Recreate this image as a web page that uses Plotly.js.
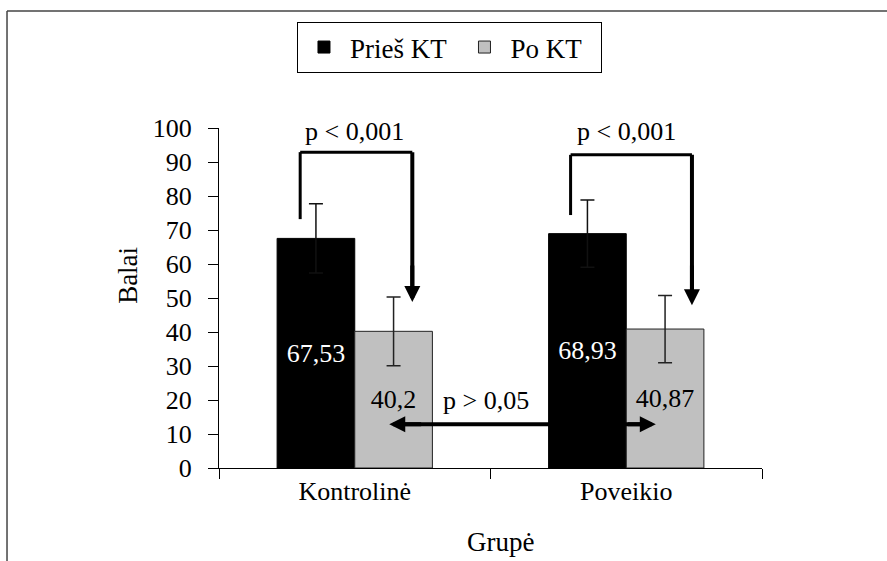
<!DOCTYPE html>
<html>
<head>
<meta charset="utf-8">
<script src="https://cdn.plot.ly/plotly-3.0.1.min.js"></script>
<style>
  html, body { margin: 0; padding: 0; background: #ffffff; }
  #chart { width: 887px; height: 561px; }
</style>
</head>
<body>
<div id="chart"></div>
<script>
// ---- data ----
const categories = ["Kontrolinė", "Poveikio"];
const seriesNames = ["Prieš KT", "Po KT"];
const beforeValues = [67.53, 68.93];
const afterValues = [40.2, 40.87];
const beforeErrors = [10.2, 9.9];
const afterErrors = [10.1, 9.9];
const yTickValues = [0, 10, 20, 30, 40, 50, 60, 70, 80, 90, 100];
const pLabels = ["p < 0,001", "p < 0,001", "p > 0,05"];
const xTitle = "Grupė";
const yTitle = "Balai";

const FONT = "Liberation Serif";
const fmt = v => String(v).replace('.', ',');

const traceBefore = {
  type: 'bar',
  name: seriesNames[0] + '\u00a0',
  x: categories,
  y: beforeValues,
  marker: { color: '#000000', line: { color: '#000000', width: 1 } },
  error_y: { type: 'data', array: beforeErrors, visible: true, color: '#111111', thickness: 1.5, width: 7 },
  text: beforeValues.map(fmt),
  textposition: 'inside',
  insidetextanchor: 'middle',
  textangle: 0,
  constraintext: 'none',
  textfont: { family: FONT, size: 26, color: '#ffffff' },
  hoverinfo: 'none'
};
const traceAfter = {
  type: 'bar',
  name: seriesNames[1] + '\u00a0\u00a0',
  x: categories,
  y: afterValues,
  marker: { color: '#c0c0c0', line: { color: '#222222', width: 1 } },
  error_y: { type: 'data', array: afterErrors, visible: true, color: '#222222', thickness: 1.5, width: 7 },
  text: afterValues.map(fmt),
  textposition: 'inside',
  insidetextanchor: 'middle',
  textangle: 0,
  constraintext: 'none',
  textfont: { family: FONT, size: 26, color: '#000000' },
  hoverinfo: 'none'
};

function bracket(i, xl, xr, yStart, yTop, yTip) {
  return [
    { type: 'line', xref: 'x', yref: 'y', x0: i + xl, x1: i + xl, y0: yStart, y1: yTop, line: { color: '#000', width: 3 } },
    { type: 'line', xref: 'x', yref: 'y', x0: i + xl, x1: i + xr, y0: yTop, y1: yTop, line: { color: '#000', width: 3 } },
    { type: 'line', xref: 'x', yref: 'y', x0: i + xr, x1: i + xr, y0: yTop, y1: yTip + 3, line: { color: '#000', width: 4 } }
  ];
}

const shapes = [].concat(
  bracket(0, -0.201, 0.212, 73.2, 92.9, 48.8),
  bracket(1, -0.205, 0.242, 74.4, 92.1, 47.9),
  [
    { type: 'line', xref: 'x', yref: 'y', x0: 0.16, x1: 1.08, y0: 12.9, y1: 12.9, line: { color: '#000', width: 4 } },
    { type: 'line', xref: 'x', yref: 'y', x0: 1.5, x1: 1.603, y0: 0, y1: 0, line: { color: '#000', width: 1 } },
    { type: 'line', xref: 'paper', yref: 'paper', x0: -0.3904, x1: 1.25, y0: 1.344, y1: 1.344, line: { color: '#444', width: 1.5 } },
    { type: 'line', xref: 'paper', yref: 'paper', x0: -0.3904, x1: -0.3904, y0: 1.344, y1: -0.3, line: { color: '#444', width: 1.5 } }
  ]
);

function arrowAnn(x, y, ax, ay) {
  return { x: x, y: y, ax: ax, ay: ay, xref: 'x', yref: 'y', axref: 'x', ayref: 'y',
    text: '', showarrow: true, arrowhead: 2, arrowsize: 0.8, arrowwidth: 4, arrowcolor: '#000', standoff: 0 };
}

const annotations = [
  { x: 0, y: 99, xref: 'x', yref: 'y', text: pLabels[0], showarrow: false, font: { family: FONT, size: 26, color: '#000' } },
  { x: 1, y: 99, xref: 'x', yref: 'y', text: pLabels[1], showarrow: false, font: { family: FONT, size: 26, color: '#000' } },
  { x: 0.484, y: 20, xref: 'x', yref: 'y', text: pLabels[2], showarrow: false, font: { family: FONT, size: 26, color: '#000' } },
  arrowAnn(0.212, 48.8, 0.212, 60),
  arrowAnn(1.242, 47.9, 1.242, 60),
  arrowAnn(0.127, 12.9, 0.25, 12.9),
  arrowAnn(1.109, 12.9, 1.0, 12.9),
  { x: -0.1676, y: 0.568, xref: 'paper', yref: 'paper', xanchor: 'center', yanchor: 'middle', text: yTitle, textangle: -90, showarrow: false, font: { family: FONT, size: 27, color: '#000' } },
  { x: 0.518, y: -0.218, xref: 'paper', yref: 'paper', xanchor: 'center', yanchor: 'middle', text: xTitle, showarrow: false, font: { family: FONT, size: 27, color: '#000' } }
];

const layout = {
  width: 887, height: 561,
  margin: { l: 219, r: 125, t: 128, b: 93, pad: 0 },
  paper_bgcolor: '#ffffff', plot_bgcolor: '#ffffff',
  font: { family: FONT, size: 26, color: '#000' },
  barmode: 'group', bargap: 0.428, bargroupgap: 0,
  showlegend: true,
  legend: {
    orientation: 'h', x: 0.1436, y: 1.3118, xanchor: 'left', yanchor: 'top',
    bordercolor: '#000', borderwidth: 1, bgcolor: '#fff',
    font: { family: FONT, size: 27, color: '#000' },
    traceorder: 'normal', itemwidth: 42
  },
  xaxis: {
    type: 'category', range: [-0.5, 1.5], tickson: 'boundaries',
    ticks: 'outside', ticklen: 10, tickcolor: '#000', tickwidth: 1,
    showline: true, linecolor: '#000', linewidth: 1, showgrid: false, zeroline: false,
    tickfont: { family: FONT, size: 26, color: '#000' }, fixedrange: true
  },
  yaxis: {
    range: [0, 100], tickvals: yTickValues,
    ticks: 'outside', ticklen: 10, tickcolor: '#000', tickwidth: 1, ticklabelstandoff: 11,
    showline: true, linecolor: '#000', linewidth: 1, showgrid: false, zeroline: false,
    tickfont: { family: FONT, size: 26, color: '#000' }, fixedrange: true
  },
  shapes: shapes,
  annotations: annotations
};

Plotly.newPlot('chart', [traceBefore, traceAfter], layout, { staticPlot: true, displayModeBar: false });
</script>
</body>
</html>
